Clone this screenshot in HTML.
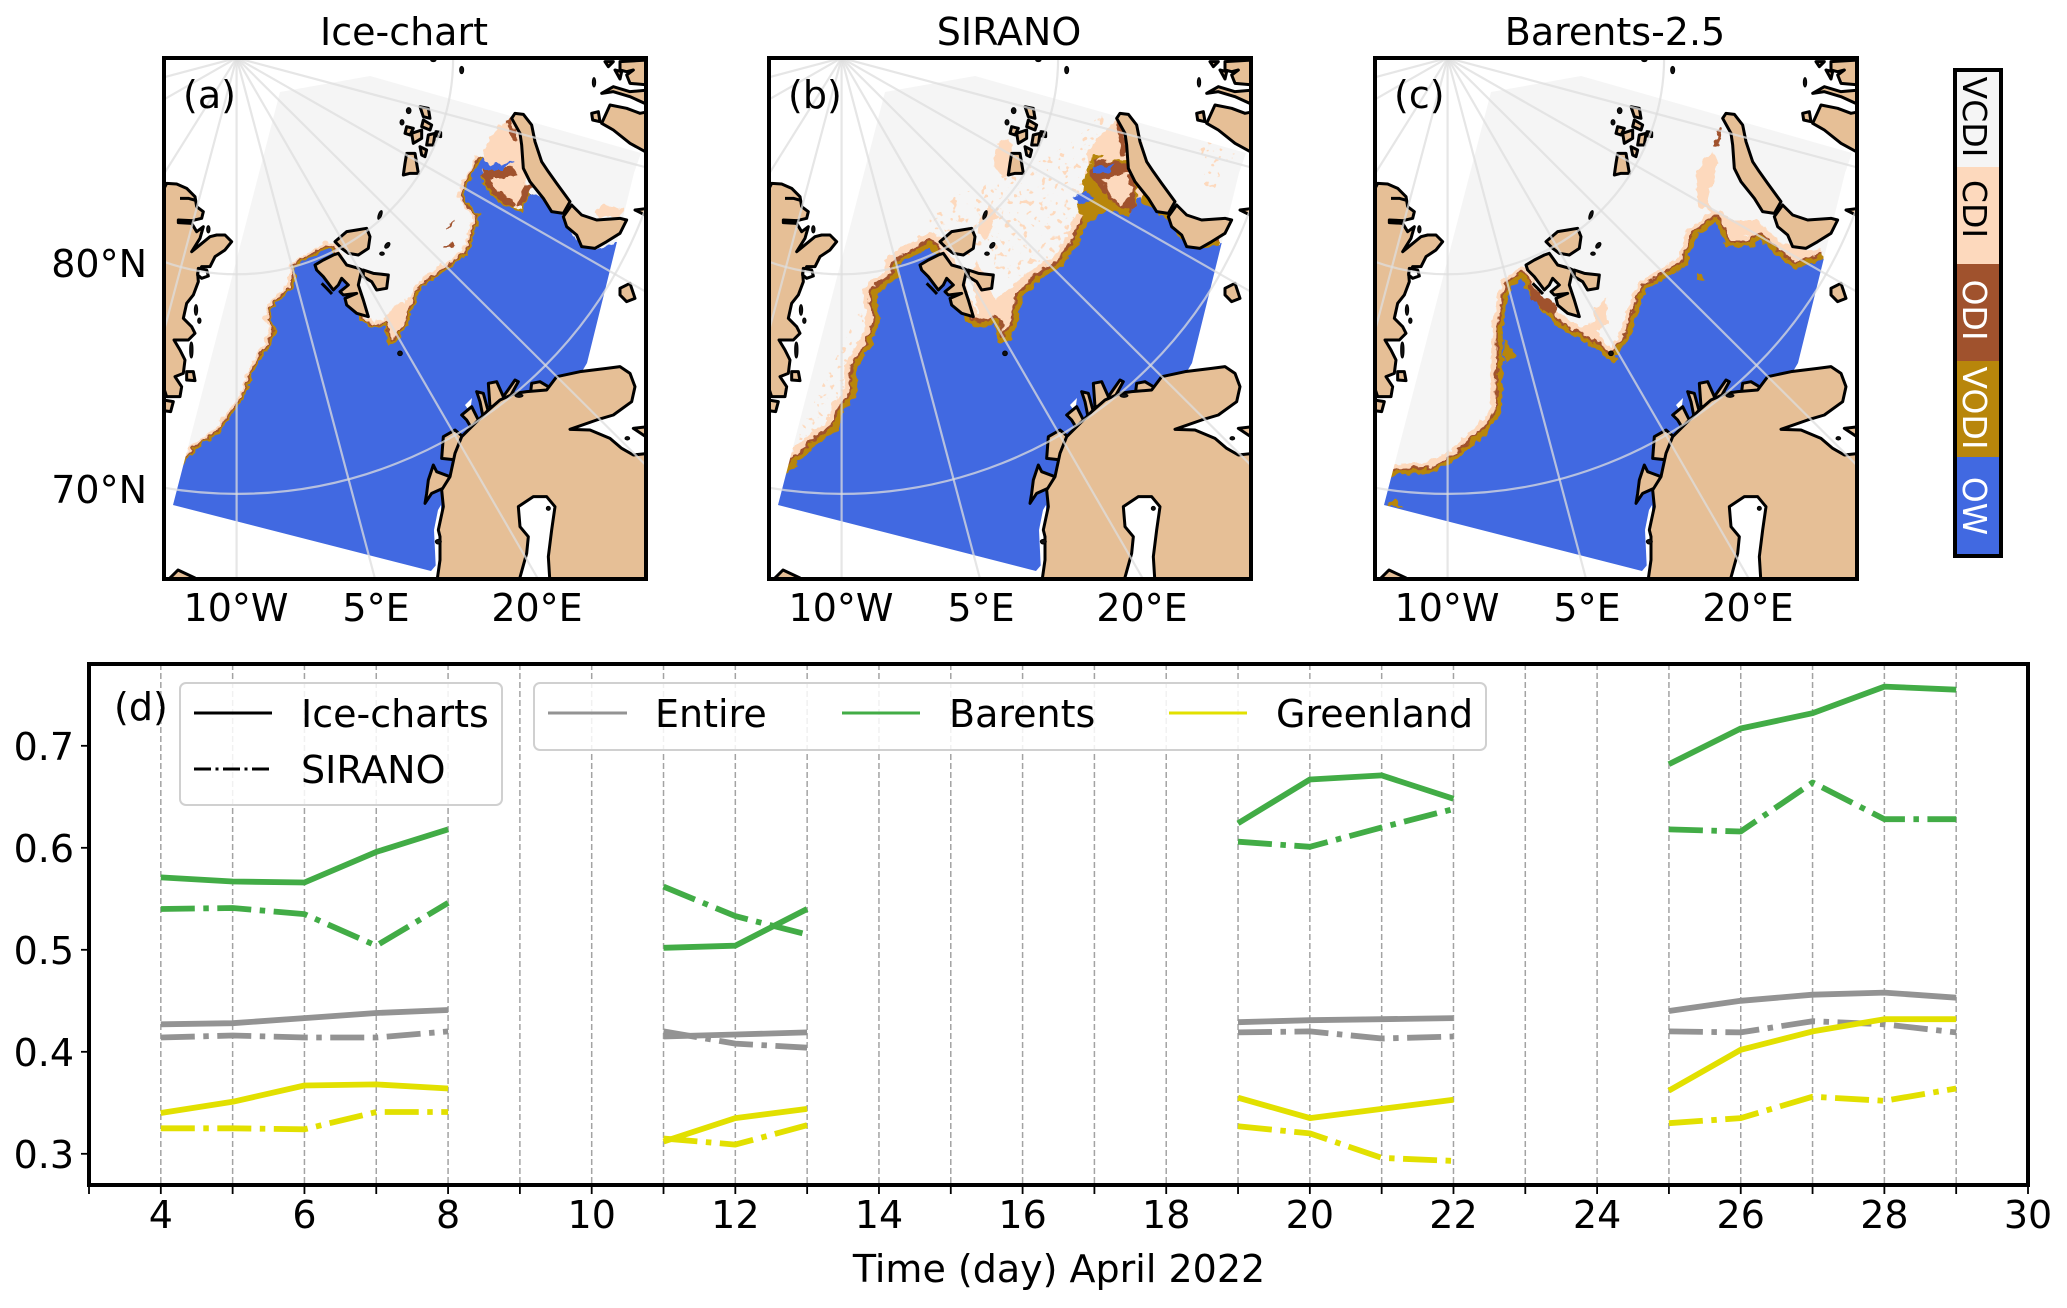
<!DOCTYPE html>
<html lang="en">
<head>
<meta charset="utf-8">
<title>Ice charts, SIRANO and Barents-2.5 comparison, April 2022</title>
<style>
html,body{margin:0;padding:0;background:#fff}
svg{display:block}
text{font-family:"DejaVu Sans","Liberation Sans",sans-serif;fill:#000}
#land polygon{fill:#e6bf96;stroke:#000;stroke-width:3;stroke-linejoin:round;vector-effect:non-scaling-stroke}
#land polygon.hole{fill:#fff}
#land polyline{fill:none;stroke:#000;stroke-width:3;stroke-linejoin:round;vector-effect:non-scaling-stroke}
#land ellipse{fill:#111;stroke:#000;stroke-width:1;vector-effect:non-scaling-stroke}
.grat{fill:none;stroke:#dedede;stroke-opacity:.75;stroke-width:2.2;vector-effect:non-scaling-stroke}
.t38{font-size:38px}
.edge{fill:none;stroke-linejoin:round}
</style>
</head>
<body>
<svg id="figure" width="2067" height="1308" viewBox="0 0 2067 1308" xmlns="http://www.w3.org/2000/svg">
<defs>
  <clipPath id="frame"><rect x="163" y="58" width="483" height="521"/></clipPath>
  <clipPath id="domain"><polygon points="173,505 280,92 370,76 641,153 634,173 587,363 536,449 431,571"/></clipPath>
  <filter id="rough" filterUnits="userSpaceOnUse" x="140" y="40" width="540" height="560" color-interpolation-filters="sRGB">
    <feTurbulence type="fractalNoise" baseFrequency="0.14" numOctaves="2" seed="3" result="n"/>
    <feDisplacementMap in="SourceGraphic" in2="n" scale="8" xChannelSelector="R" yChannelSelector="G"/>
  </filter>
  <filter id="speckle" filterUnits="userSpaceOnUse" x="140" y="40" width="540" height="560" color-interpolation-filters="sRGB">
    <feTurbulence type="fractalNoise" baseFrequency="0.17" numOctaves="2" seed="8"/>
    <feColorMatrix values="0 0 0 0 0  0 0 0 0 0  0 0 0 0 0  16 0 0 0 -10" result="mask"/>
    <feComposite in="SourceGraphic" in2="mask" operator="in"/>
  </filter>
  <g id="land">
    <g transform="translate(160,170) scale(.33333)">
      <polygon points="10,60 20,40 50,42 80,55 105,80 110,110 130,125 125,145 95,152 55,150 55,158 95,160 110,185 130,170 120,205 95,245 150,200 170,195 195,195 215,215 195,240 165,260 150,290 125,290 113,310 115,335 100,375 80,400 70,445 95,470 105,490 85,510 42,510 60,540 75,570 70,610 45,620 65,650 60,680 20,680 10,650"/>
      <polyline points="60,85 85,85 110,92"/>
      <polygon points="10,690 40,695 32,725 10,722"/>
      <polygon points="80,605 100,605 105,632 80,630"/>
      <polygon class="hole" points="115,295 140,300 145,318 125,325 113,315"/>
      <ellipse cx="108" cy="420" rx="5" ry="16"/>
      <ellipse cx="118" cy="452" rx="5" ry="8"/>
      <ellipse cx="94" cy="540" rx="5" ry="24"/>
      <ellipse cx="145" cy="178" rx="5" ry="11"/>
      <polygon points="465,285 490,270 520,255 535,250 560,285 595,295 605,300 595,345 610,390 625,440 590,430 560,405 555,385 590,370 550,375 540,365 565,345 545,325 535,345 520,360 490,320 470,300"/>
      <polygon points="525,215 560,185 590,180 620,175 630,200 625,235 595,255 565,250 545,235"/>
      <polygon points="610,300 640,310 685,315 680,355 650,360 635,335 610,320"/>
      <polyline points="485,340 500,355 516,372"/>
      <ellipse cx="660" cy="135" rx="5" ry="14" transform="rotate(20 660 135)"/>
      <ellipse cx="682" cy="226" rx="6" ry="10" transform="rotate(40 682 226)"/>
      <ellipse cx="666" cy="251" rx="7" ry="5"/>
      <ellipse cx="720" cy="550" rx="7" ry="7"/>
    </g>
    <g transform="translate(400,55) scale(.33333)">
      <polygon points="335,190 345,175 370,178 395,210 405,260 425,320 445,350 470,385 510,440 490,475 455,470 430,430 390,380 370,340 365,270 360,235"/>
      <polygon points="515,450 545,480 590,495 660,490 680,495 660,535 620,560 585,580 545,575 530,540 500,515 490,485"/>
      <polygon points="630,150 680,160 720,175 745,170 745,295 690,265 640,225 605,205"/>
      <polygon points="660,20 745,15 745,90 690,85 680,60 700,45 680,50 660,45"/>
      <polygon points="615,20 640,20 625,35"/>
      <polygon points="645,45 665,50 660,72"/>
      <polygon points="605,115 640,95 690,110 745,105 745,150 690,125 640,110"/>
      <polygon points="575,175 595,170 600,200 578,195"/>
      <polygon points="660,700 690,685 705,730 680,740 660,720"/>
      <polygon points="705,465 745,460 745,485"/>
      <ellipse cx="185" cy="45" rx="6" ry="11"/>
      <ellipse cx="100" cy="15" rx="8" ry="5"/>
      <ellipse cx="582" cy="82" rx="5" ry="14"/>
      <polygon points="60,155 85,160 90,190 70,185"/>
      <polygon points="70,195 95,210 90,225 65,215"/>
      <polygon points="20,215 40,220 30,240 15,235"/>
      <polygon points="35,235 65,225 65,250 40,265"/>
      <polygon points="85,240 105,235 100,270 80,270"/>
      <polygon points="60,275 80,285 75,305 65,300"/>
      <polygon points="20,295 45,295 50,325 55,355 30,355 10,360 15,325"/>
      <polygon points="108,230 122,232 122,245 110,243"/>
      <ellipse cx="26" cy="167" rx="7" ry="9"/>
      <ellipse cx="6" cy="202" rx="6" ry="8"/>
    </g>
    <g transform="translate(400,340) scale(.33333)">
      <polygon points="265,130 290,125 310,170 345,120 355,125 330,170 320,200 270,200"/>
      <polygon points="230,155 250,160 265,215 250,235 240,185"/>
      <polygon points="185,225 215,200 240,250 215,265 200,240"/>
      <polygon points="130,290 165,270 200,300 170,360 125,355"/>
      <polygon points="100,375 110,395 150,410 140,440 95,460 75,490 80,460 85,420"/>
      <polygon points="395,130 420,125 445,140 440,170 390,170"/>
      <polygon points="110,730 120,660 120,590 115,570 130,500 125,450 150,410 165,340 185,290 230,245 260,215 300,180 345,160 380,155 440,150 470,110 540,95 620,85 660,80 690,100 705,140 695,185 640,225 590,240 510,268 570,270 630,295 665,325 700,345 745,340 745,730"/>
      <polygon class="hole" points="355,730 380,640 385,590 360,560 355,500 400,470 440,470 465,500 455,570 445,650 450,730"/>
      <polygon points="700,265 745,260 745,295"/>
      <ellipse cx="115" cy="605" rx="9" ry="7"/>
      <ellipse cx="357" cy="167" rx="12" ry="5"/>
      <ellipse cx="445" cy="505" rx="6" ry="6"/>
      <ellipse cx="682" cy="295" rx="7" ry="5"/>
    </g>
    <polygon points="163,585 178,570 195,578 196,585"/>
  </g>
  <g id="grid" transform="scale(.44643,.40816)">
    <line class="grat" x1="530" y1="142" x2="530" y2="1418"/>
    <line class="grat" x1="530" y1="142" x2="840" y2="1418"/>
    <line class="grat" x1="530" y1="142" x2="1205" y2="1418"/>
    <line class="grat" x1="530" y1="142" x2="1447" y2="1140"/>
    <line class="grat" x1="530" y1="142" x2="1447" y2="715"/>
    <line class="grat" x1="530" y1="142" x2="1447" y2="410"/>
    <line class="grat" x1="530" y1="142" x2="365" y2="190"/>
    <line class="grat" x1="530" y1="142" x2="365" y2="245"/>
    <line class="grat" x1="530" y1="142" x2="365" y2="430"/>
    <line class="grat" x1="530" y1="142" x2="365" y2="820"/>
    <ellipse class="grat" cx="530" cy="142" rx="485" ry="530"/>
    <ellipse class="grat" cx="530" cy="142" rx="976" ry="1068"/>
  </g>
  <polyline id="edgeA" points="173,505 183,465 196,449 219,433 234,412 243,400 250,383 255,370 273,340 277,330 270,320 272,310 277,303 288,292 295,283 295,267 307,260 327,248 332,250 345,275 360,320 373,328 385,325 388,347 400,338 408,323 417,297 420,288 443,272 467,255 475,232 480,215 468,202 463,195 482,158"/>
  <polyline id="edgeB" points="173,505 182,473 211,445 233,429 238,412 251,396 253,367 266,347 275,322 271,294 293,278 293,265 325,247 340,270 362,323 375,328 390,323 392,342 403,342 413,323 417,297 435,280 458,265 473,243 482,223 503,210 525,217 533,197 562,220 578,240 595,247 615,245"/>
  <polyline id="edgeC" points="175,505 185,475 221,473 244,461 275,433 291,412 292,327 300,286 311,278 318,296 347,327 383,347 401,363 418,339 435,290 476,265 485,237 505,222 516,247 541,247 548,239 568,257 584,269 613,259"/>
</defs>

<!-- Panel a -->
<g clip-path="url(#frame)">
  <rect x="163" y="58" width="483" height="521" fill="#fff"/>
  <polygon fill="#f5f5f5" points="173,505 280,92 370,76 641,153 634,173 587,363 536,449 431,571"/>
  <g clip-path="url(#domain)">
    <g filter="url(#rough)">
      <polygon fill="#fdd9bd" points="483,152 495,130 508,120 515,112 533,115 523,142 528,182 517,208 500,198 483,168"/>
      <polygon fill="#fdd9bd" points="595,212 603,205 623,208 620,218 597,218"/>
      <polygon fill="#fdd9bd" points="383,317 400,303 417,295 408,323 400,340 387,347"/>
      <polyline class="edge" stroke="#a0522d" stroke-width="2" points="445,230 455,222"/>
      <polyline class="edge" stroke="#a0522d" stroke-width="2" points="443,247 455,243"/>
      <use href="#edgeA" class="edge" stroke="#fdd9bd" stroke-width="12"/>
      <use href="#edgeA" class="edge" stroke="#a0522d" stroke-width="7"/>
      <use href="#edgeA" class="edge" stroke="#b8860b" stroke-width="4"/>
      <polyline class="edge" stroke="#a0522d" stroke-width="9" points="483,174 500,174 515,171"/>
      <polyline class="edge" stroke="#a0522d" stroke-width="12" points="483,172 488,190 500,200 513,208"/>
      <polyline class="edge" stroke="#b8860b" stroke-width="4" points="480,178 488,192 500,203 513,210 523,213 530,192"/>
      <polyline class="edge" stroke="#a0522d" stroke-width="7" points="520,205 528,185"/>
      <polyline class="edge" stroke="#a0522d" stroke-width="5" points="508,120 515,140"/>
      <polygon fill="#4169e1" points="150,530 160,470 183,465 196,449 219,433 234,412 243,400 250,383 255,370 273,340 277,330 270,320 272,310 277,303 288,292 295,283 295,267 307,260 327,248 332,250 345,275 360,320 373,328 385,325 388,347 400,338 408,323 417,297 420,288 443,272 467,255 475,232 480,215 468,202 463,195 482,158 490,165 513,162 503,170 483,170 480,178 488,192 500,203 513,210 523,213 530,192 543,198 563,215 580,245 597,248 617,243 655,245 615,400 570,440 450,530 445,600"/>
    </g>
  </g>
  <polygon fill="#fff" points="434,530 438,510 441,505 442,570 436,572"/>
  <polygon fill="#fff" points="465,405 472,398 470,412"/>
  <use href="#land"/>
  <use href="#grid"/>
</g>

<!-- Panel b -->
<g transform="translate(605,0)" clip-path="url(#frame)">
  <rect x="163" y="58" width="483" height="521" fill="#fff"/>
  <polygon fill="#f5f5f5" points="173,505 280,92 370,76 641,153 634,173 587,363 536,449 431,571"/>
  <g clip-path="url(#domain)">
    <g filter="url(#speckle)" fill="#fdd9bd">
      <polygon points="300,250 340,200 420,170 470,140 500,110 480,250 420,290 380,260 330,245"/>
      <polygon points="190,440 225,370 260,300 300,245 300,280 265,390 210,440"/>
      <polygon points="590,135 621,143 635,157 608,163 615,175 608,194 599,184 599,167"/>
    </g>
    <g filter="url(#rough)">
      <polygon fill="#fdd9bd" points="392,143 405,138 410,170 398,178 390,167"/>
      <polygon fill="#fdd9bd" points="375,220 385,205 392,215 382,240 372,235"/>
      <polygon fill="#fdd9bd" points="366,272 372,260 390,300 420,275 415,330 395,340 375,322"/>
      <polygon fill="#fdd9bd" points="195,445 240,405 262,340 240,420 205,460"/>
      <use href="#edgeB" class="edge" stroke="#fdd9bd" stroke-width="26"/>
      <use href="#edgeB" class="edge" stroke="#a0522d" stroke-width="15"/>
      <use href="#edgeB" class="edge" stroke="#b8860b" stroke-width="10"/>
      <polygon fill="#fdd9bd" points="480,155 505,125 525,110 545,170 530,215 505,205"/>
      <polygon fill="#b8860b" points="474,208 480,175 490,153 530,160 532,200 525,217 503,212 482,226"/>
      <polygon fill="#a0522d" points="484,172 490,160 522,163 530,180 530,212 515,208 500,195"/>
      <polygon fill="#fdd9bd" points="495,160 505,135 520,125 522,160 492,162"/>
      <polygon fill="#fdd9bd" points="497,180 523,172 527,192 516,205 505,196"/>
      <polyline class="edge" stroke="#a0522d" stroke-width="6" points="515,122 519,155"/>
      <polygon fill="#4169e1" points="150,530 160,478 182,473 211,445 233,429 238,412 251,396 253,367 266,347 275,322 271,294 293,278 293,265 325,247 340,270 362,323 375,328 390,323 392,342 403,342 413,323 417,297 435,280 458,265 473,243 482,223 503,210 525,217 533,197 562,220 578,240 595,247 615,245 655,245 615,400 570,440 450,530 445,600"/>
      <polygon fill="#4169e1" points="486,166 510,165 505,173 488,173"/>
      <polygon fill="#4169e1" points="468,197 482,191 490,198 475,205"/>
    </g>
  </g>
  <polygon fill="#fff" points="434,530 438,510 441,505 442,570 436,572"/>
  <polygon fill="#fff" points="465,405 472,398 470,412"/>
  <use href="#land"/>
  <use href="#grid"/>
</g>

<!-- Panel c -->
<g transform="translate(1211,0)" clip-path="url(#frame)">
  <rect x="163" y="58" width="483" height="521" fill="#fff"/>
  <polygon fill="#f5f5f5" points="173,505 280,92 370,76 641,153 634,173 587,363 536,449 431,571"/>
  <g clip-path="url(#domain)">
    <g filter="url(#rough)">
      <polygon fill="#fdd9bd" points="485,171 501,151 507,163 496,200 505,216 487,204"/>
      <polygon fill="#fdd9bd" points="383,310 395,298 397,322 386,331"/>
      <polygon fill="#fdd9bd" points="347,322 370,327 388,318 388,347 361,339"/>
      <polygon fill="#fdd9bd" points="514,220 546,220 573,245 613,253 584,265 548,232 516,240"/>
      <polyline class="edge" stroke="#a0522d" stroke-width="3" points="510,127 505,147"/>
      <use href="#edgeC" class="edge" stroke="#fdd9bd" stroke-width="22"/>
      <use href="#edgeC" class="edge" stroke="#a0522d" stroke-width="13"/>
      <use href="#edgeC" class="edge" stroke="#b8860b" stroke-width="9"/>
      <polygon fill="#4169e1" points="150,530 162,480 185,475 221,473 244,461 275,433 291,412 292,327 300,286 311,278 318,296 347,327 383,347 401,363 418,339 435,290 476,265 485,237 505,222 516,247 541,247 548,239 568,257 584,269 613,259 655,260 615,400 570,440 450,530 445,600"/>
      <polygon fill="#a0522d" points="316,284 323,288 347,306 343,316 320,300"/>
      <polygon fill="#b8860b" points="485,273 490,274 494,282 487,281"/>
      <polygon fill="#b8860b" points="293,339 305,355 293,363"/>
      <polygon fill="#b8860b" points="176,506 185,498 192,508"/>
    </g>
  </g>
  <polygon fill="#fff" points="434,530 438,510 441,505 442,570 436,572"/>
  <polygon fill="#fff" points="465,405 472,398 470,412"/>
  <use href="#land"/>
  <use href="#grid"/>
</g>

<!-- Map frames and labels -->
<g fill="none" stroke="#000" stroke-width="4">
  <rect x="164" y="58" width="482" height="521"/>
  <rect x="769" y="58" width="482" height="521"/>
  <rect x="1375" y="58" width="482" height="521"/>
</g>
<g class="t38">
  <text x="404" y="45" text-anchor="middle">Ice-chart</text>
  <text x="1009" y="45" text-anchor="middle">SIRANO</text>
  <text x="1615" y="45" text-anchor="middle">Barents-2.5</text>
  <text x="183" y="108">(a)</text>
  <text x="788" y="108">(b)</text>
  <text x="1394" y="108">(c)</text>
  <text x="147" y="277" text-anchor="end">80°N</text>
  <text x="147" y="503" text-anchor="end">70°N</text>
  <text x="236" y="621" text-anchor="middle">10°W</text>
  <text x="376" y="621" text-anchor="middle">5°E</text>
  <text x="537" y="621" text-anchor="middle">20°E</text>
  <text x="841" y="621" text-anchor="middle">10°W</text>
  <text x="981" y="621" text-anchor="middle">5°E</text>
  <text x="1142" y="621" text-anchor="middle">20°E</text>
  <text x="1447" y="621" text-anchor="middle">10°W</text>
  <text x="1587" y="621" text-anchor="middle">5°E</text>
  <text x="1748" y="621" text-anchor="middle">20°E</text>
</g>

<!-- Colorbar -->
<g>
  <rect x="1956" y="71" width="44" height="96" fill="#f5f5f5"/>
  <rect x="1956" y="167" width="44" height="97" fill="#fdd9bd"/>
  <rect x="1956" y="264" width="44" height="97" fill="#a0522d"/>
  <rect x="1956" y="361" width="44" height="96" fill="#b8860b"/>
  <rect x="1956" y="457" width="44" height="98" fill="#4169e1"/>
  <rect x="1955" y="70" width="46" height="486" fill="none" stroke="#000" stroke-width="4"/>
  <g font-size="33">
    <text transform="translate(1963,117) rotate(90)" text-anchor="middle">VCDI</text>
    <text transform="translate(1963,209) rotate(90)" text-anchor="middle">CDI</text>
    <text transform="translate(1963,310) rotate(90)" text-anchor="middle" style="fill:#fff">ODI</text>
    <text transform="translate(1963,408) rotate(90)" text-anchor="middle" style="fill:#fff">VODI</text>
    <text transform="translate(1963,506) rotate(90)" text-anchor="middle" style="fill:#fff">OW</text>
  </g>
</g>

<!-- Line chart -->
<g id="chart"></g>
</svg>

<script>
const days = [4,5,6,7,8,9,10,11,12,13,14,15,16,17,18,19,20,21,22,23,24,25,26,27,28,29];
const xTickLabels = [4,6,8,10,12,14,16,18,20,22,24,26,28,30];
const yTickLabels = [0.3,0.4,0.5,0.6,0.7];
const barentsIce = [.571,.567,.566,.596,.618,null,null,.502,.504,.540,null,null,null,null,null,.624,.667,.671,.648,null,null,.682,.717,.732,.758,.755];
const barentsSirano = [.540,.541,.535,.504,.546,null,null,.562,.533,.515,null,null,null,null,null,.606,.601,.620,.638,null,null,.618,.616,.664,.628,.628];
const entireIce = [.427,.428,.433,.438,.441,null,null,.415,.417,.419,null,null,null,null,null,.429,.431,.432,.433,null,null,.440,.450,.456,.458,.453];
const entireSirano = [.414,.416,.414,.414,.420,null,null,.420,.408,.404,null,null,null,null,null,.419,.420,.413,.415,null,null,.420,.419,.430,.427,.419];
const greenlandIce = [.340,.351,.367,.368,.364,null,null,.312,.335,.344,null,null,null,null,null,.355,.335,.344,.353,null,null,.362,.402,.420,.432,.432];
const greenlandSirano = [.325,.325,.324,.341,.341,null,null,.315,.309,.328,null,null,null,null,null,.327,.320,.296,.293,null,null,.330,.335,.356,.352,.364];

const NS = 'http://www.w3.org/2000/svg';
const chart = document.getElementById('chart');
const left = 89, right = 2028, top_ = 664, bottom = 1185;
const xScale = d => left + (d - 3) * (right - left) / 27;
const yScale = v => 1153.8 - (v - 0.3) * 1020;
const GREEN = '#42ac46', GRAY = '#939393', YELLOW = '#e2e000';
const DASHDOT = '34 8.5 5.5 8.5';

function make(tag, attrs, parent) {
  const el = document.createElementNS(NS, tag);
  for (const k in attrs) el.setAttribute(k, attrs[k]);
  (parent || chart).appendChild(el);
  return el;
}

for (let d = 4; d <= 29; d++) {
  const gl = make('line', {x1: xScale(d), x2: xScale(d), y1: top_, y2: bottom, stroke: '#a3a3a3', 'stroke-width': 1.5, 'stroke-dasharray': '6 3'});
  
  
}
for (let d = 3; d <= 30; d++) {
  const t = make('line', {x1: xScale(d), x2: xScale(d), y1: bottom, y2: bottom + 9, stroke: '#000', 'stroke-width': 1.8});
  
  
}
xTickLabels.forEach(d => {
  const t = make('text', {x: xScale(d), y: 1228, 'text-anchor': 'middle', 'font-size': 38});
  
  
  t.textContent = d;
});
yTickLabels.forEach(v => {
  const tick = make('line', {x1: left - 8, x2: left, y1: yScale(v), y2: yScale(v), stroke: '#000', 'stroke-width': 1.8});
  
  
  const t = make('text', {x: 74, y: yScale(v) + 14, 'text-anchor': 'end', 'font-size': 38});
  
  
  t.textContent = v.toFixed(1);
});

function seriesPath(values) {
  let d = '', pen = false;
  values.forEach((v, i) => {
    if (v === null) { pen = false; return; }
    d += (pen ? 'L' : 'M') + xScale(days[i]).toFixed(1) + ' ' + yScale(v).toFixed(1);
    pen = true;
  });
  return d;
}
function drawSeries(values, color, dashed, name) {
  const attrs = {d: seriesPath(values), fill: 'none', stroke: color, 'stroke-width': 5.8, 'stroke-linejoin': 'round'};
  if (dashed) attrs['stroke-dasharray'] = DASHDOT;
  const p = make('path', attrs);
  
  
}
drawSeries(entireIce, GRAY, false, 'series-entire-ice-charts');
drawSeries(entireSirano, GRAY, true, 'series-entire-sirano');
drawSeries(barentsIce, GREEN, false, 'series-barents-ice-charts');
drawSeries(barentsSirano, GREEN, true, 'series-barents-sirano');
drawSeries(greenlandIce, YELLOW, false, 'series-greenland-ice-charts');
drawSeries(greenlandSirano, YELLOW, true, 'series-greenland-sirano');

const spine = make('rect', {x: left, y: top_, width: right - left, height: bottom - top_, fill: 'none', stroke: '#000', 'stroke-width': 4});



const panelLabel = make('text', {x: 114, y: 720, 'font-size': 38});


panelLabel.textContent = '(d)';

const legendA = make('rect', {x: 180, y: 683, width: 322, height: 122, rx: 6, fill: '#fff', 'fill-opacity': .85, stroke: '#d0d0d0', 'stroke-width': 2});


const legendB = make('rect', {x: 534, y: 683, width: 952, height: 67, rx: 6, fill: '#fff', 'fill-opacity': .85, stroke: '#d0d0d0', 'stroke-width': 2});



function legendEntry(x1, x2, y, color, dash, tx, label, name) {
  const attrs = {x1: x1, x2: x2, y1: y, y2: y, stroke: color, 'stroke-width': 3};
  if (dash) attrs['stroke-dasharray'] = '17 4.5 3 4.5';
  const l = make('line', attrs);
  
  
  const t = make('text', {x: tx, y: y + 14, 'font-size': 38});
  
  
  t.textContent = label;
}
legendEntry(194, 272, 713, '#000', false, 301, 'Ice-charts', 'legend-ice-charts');
legendEntry(194, 272, 769, '#000', true, 301, 'SIRANO', 'legend-sirano');
legendEntry(548, 627, 713, GRAY, false, 655, 'Entire', 'legend-entire');
legendEntry(842, 920, 713, GREEN, false, 949, 'Barents', 'legend-barents');
legendEntry(1169, 1247, 713, YELLOW, false, 1276, 'Greenland', 'legend-greenland');

const xTitle = make('text', {x: 1059, y: 1282, 'text-anchor': 'middle', 'font-size': 38});


xTitle.textContent = 'Time (day) April 2022';
</script>
</body>
</html>
